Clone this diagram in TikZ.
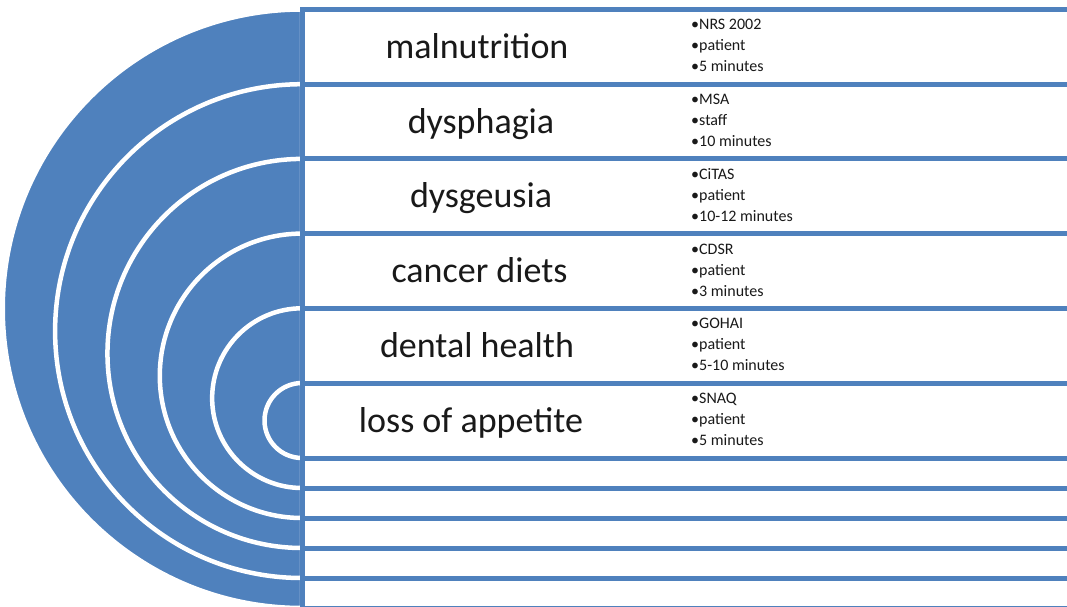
\documentclass[tikz,border=0pt]{standalone}
\usepackage{fontspec}
\setmainfont{Carlito}
\definecolor{sblue}{HTML}{4F81BD}
\tikzset{
  disk/.style={fill=sblue, draw=white, line width=4.5pt},
  rowbox/.style={fill=white, draw=sblue, line width=5pt},
  mainlbl/.style={anchor=base, inner sep=0pt, font=\fontsize{36}{43}\selectfont, text=black!90},
  sublbl/.style={anchor=base west, inner sep=0pt, font=\fontsize{16}{21}\selectfont, text=black!90}
}
\begin{document}
\begin{tikzpicture}[x=1pt,y=-1pt]
\useasboundingbox (0,0) rectangle (1067,607);
\begin{scope}
\clip (0,0) rectangle (1067,607);
\foreach \k in {0,...,5} {
  \pgfmathsetmacro\T{9.5+74.7*\k}
  \pgfmathsetmacro\B{608-30*\k}
  \pgfmathsetmacro\R{(\B-\T)/2}
  \draw[disk] (302,\T) arc[start angle=270, end angle=90, radius=\R] -- cycle;
}
\foreach \k in {0,...,5} {
  \pgfmathsetmacro\T{9.5+74.7*\k}
  \pgfmathsetmacro\B{608-30*\k}
  \draw[rowbox] (302.5,\T) rectangle (1069,\B);
}
\end{scope}
% main labels
\node[mainlbl] (m1) at (477,58.5) {malnutrition};
\node[mainlbl] (m2) at (481,133.2) {dysphagia};
\node[mainlbl] (m3) at (481,207.9) {dysgeusia};
\node[mainlbl] (m4) at (479.5,282.6) {cancer diets};
\node[mainlbl] (m5) at (477,357.3) {dental health};
\node[mainlbl] (m6) at (471,432) {loss of appetite};
% sub labels
\node[sublbl] (s1a) at (691,30) {•NRS 2002};
\node[sublbl] (s1b) at (691,51) {•patient};
\node[sublbl] (s1c) at (691,72) {•5 minutes};
\node[sublbl] (s2a) at (691,104.7) {•MSA};
\node[sublbl] (s2b) at (691,125.7) {•staff};
\node[sublbl] (s2c) at (691,146.7) {•10 minutes};
\node[sublbl] (s3a) at (691,179.4) {•CiTAS};
\node[sublbl] (s3b) at (691,200.4) {•patient};
\node[sublbl] (s3c) at (691,221.4) {•10-12 minutes};
\node[sublbl] (s4a) at (691,254.1) {•CDSR};
\node[sublbl] (s4b) at (691,275.1) {•patient};
\node[sublbl] (s4c) at (691,296.1) {•3 minutes};
\node[sublbl] (s5a) at (691,328.8) {•GOHAI};
\node[sublbl] (s5b) at (691,349.8) {•patient};
\node[sublbl] (s5c) at (691,370.8) {•5-10 minutes};
\node[sublbl] (s6a) at (691,403.5) {•SNAQ};
\node[sublbl] (s6b) at (691,424.5) {•patient};
\node[sublbl] (s6c) at (691,445.5) {•5 minutes};
\end{tikzpicture}
\end{document}
